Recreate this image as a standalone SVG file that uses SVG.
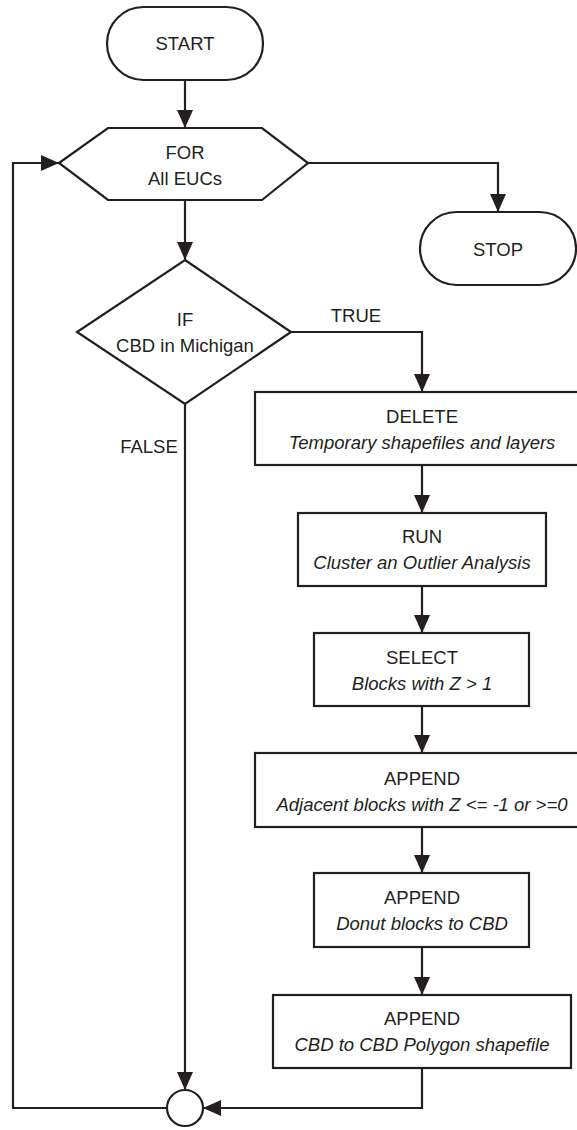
<svg xmlns="http://www.w3.org/2000/svg" width="577" height="1130" viewBox="0 0 577 1130">
  <style>
    .shape { fill: #ffffff; stroke: #231f20; stroke-width: 2.2; }
    .wire { fill: none; stroke: #231f20; stroke-width: 2.2; }
    .lbl { font-family: "Liberation Sans", Arial, sans-serif; font-size: 18.5px; fill: #231f20; text-anchor: middle; }
    .it { font-style: italic; }
  </style>
  <defs>
    <marker id="arrow" markerUnits="userSpaceOnUse" markerWidth="18" markerHeight="16" refX="18" refY="8" orient="auto">
      <path d="M0,0 L18,8 L0,16 z" fill="#231f20"/>
    </marker>
  </defs>
  <rect width="577" height="1130" fill="#ffffff"/>

  <!-- connectors -->
  <g id="connectors">
    <path class="wire" d="M185,80 V128" marker-end="url(#arrow)"/>
    <path class="wire" d="M185,200 V260" marker-end="url(#arrow)"/>
    <path class="wire" d="M308,163 H498 V212" marker-end="url(#arrow)"/>
    <path class="wire" d="M291,332 H422 V392" marker-end="url(#arrow)"/>
    <path class="wire" d="M422,465 V513" marker-end="url(#arrow)"/>
    <path class="wire" d="M422,586 V633" marker-end="url(#arrow)"/>
    <path class="wire" d="M422,706 V753" marker-end="url(#arrow)"/>
    <path class="wire" d="M422,827 V873" marker-end="url(#arrow)"/>
    <path class="wire" d="M422,947 V995" marker-end="url(#arrow)"/>
    <path class="wire" d="M422,1068 V1108 H203" marker-end="url(#arrow)"/>
    <path class="wire" d="M185,404 V1090" marker-end="url(#arrow)"/>
    <path class="wire" d="M167,1108 H13 V163 H59" marker-end="url(#arrow)"/>
    <text class="lbl" x="356" y="322">TRUE</text>
    <text class="lbl" x="149" y="453">FALSE</text>
  </g>

  <!-- terminals -->
  <g id="start">
    <rect class="shape" x="107" y="7" width="156" height="73" rx="36.5" ry="36.5"/>
    <text class="lbl" x="185" y="50">START</text>
  </g>
  <g id="stop">
    <rect class="shape" x="420" y="212" width="156" height="73" rx="36.5" ry="36.5"/>
    <text class="lbl" x="498" y="256">STOP</text>
  </g>

  <!-- loop -->
  <g id="for-loop">
    <polygon class="shape" points="59,163 108,128 262,128 308,163 262,200 108,200"/>
    <text class="lbl" x="185" y="159">FOR</text>
    <text class="lbl" x="185" y="185">All EUCs</text>
  </g>

  <!-- decision -->
  <g id="if-michigan">
    <polygon class="shape" points="185,260 291,332 185,404 77,332"/>
    <text class="lbl" x="185" y="326">IF</text>
    <text class="lbl" x="185" y="352">CBD in Michigan</text>
  </g>

  <!-- processing steps -->
  <g id="delete">
    <rect class="shape" x="255" y="392" width="334" height="73"/>
    <text class="lbl" x="422" y="423">DELETE</text>
    <text class="lbl it" x="422" y="449">Temporary shapefiles and layers</text>
  </g>
  <g id="run">
    <rect class="shape" x="298" y="513" width="248" height="73"/>
    <text class="lbl" x="422" y="543">RUN</text>
    <text class="lbl it" x="422" y="569">Cluster an Outlier Analysis</text>
  </g>
  <g id="select">
    <rect class="shape" x="314" y="633" width="215" height="73"/>
    <text class="lbl" x="422" y="664">SELECT</text>
    <text class="lbl it" x="422" y="690">Blocks with Z &gt; 1</text>
  </g>
  <g id="append-adjacent">
    <rect class="shape" x="255" y="753" width="334" height="74"/>
    <text class="lbl" x="422" y="785">APPEND</text>
    <text class="lbl it" x="422" y="811">Adjacent blocks with Z &lt;= -1 or &gt;=0</text>
  </g>
  <g id="append-donut">
    <rect class="shape" x="314" y="873" width="215" height="74"/>
    <text class="lbl" x="422" y="904">APPEND</text>
    <text class="lbl it" x="422" y="930">Donut blocks to CBD</text>
  </g>
  <g id="append-polygon">
    <rect class="shape" x="273" y="995" width="298" height="73"/>
    <text class="lbl" x="422" y="1025">APPEND</text>
    <text class="lbl it" x="422" y="1051">CBD to CBD Polygon shapefile</text>
  </g>

  <!-- junction -->
  <g id="junction">
    <circle class="shape" cx="185" cy="1108" r="18"/>
  </g>
</svg>
